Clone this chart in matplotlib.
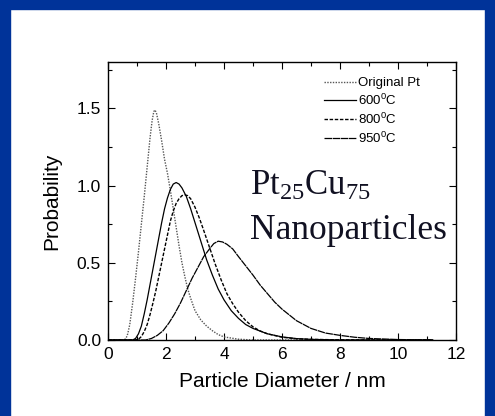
import matplotlib
matplotlib.use('Agg')
import matplotlib.pyplot as plt
from matplotlib.patches import Rectangle

plt.rcParams['font.family'] = ['Liberation Sans', 'DejaVu Sans']
plt.rcParams['mathtext.default'] = 'regular'

# values (diameter in nm, probability)
x_orig = [0.0, 0.55, 0.62, 0.68, 0.75, 0.85, 0.95, 1.05, 1.15, 1.25, 1.35, 1.45,
          1.52, 1.58, 1.62, 1.67, 1.75, 1.85, 1.95, 2.05, 2.15, 2.25, 2.35, 2.45,
          2.55, 2.65, 2.75, 2.85, 3.0, 3.2, 3.4, 3.6, 3.8, 4.0, 4.5, 5.0, 11.2]
y_orig = [0.0, 0.0, 0.01, 0.04, 0.10, 0.24, 0.40, 0.57, 0.75, 0.93, 1.12, 1.31,
          1.42, 1.48, 1.49, 1.47, 1.40, 1.29, 1.17, 1.08, 0.97, 0.85, 0.73, 0.61,
          0.50, 0.41, 0.33, 0.27, 0.19, 0.13, 0.09, 0.06, 0.035, 0.02, 0.005, 0.0, 0.0]

x_600 = [0.0, 0.85, 0.95, 1.05, 1.15, 1.25, 1.35, 1.45, 1.55, 1.65, 1.75, 1.85,
         1.95, 2.05, 2.15, 2.25, 2.35, 2.45, 2.55, 2.7, 2.85, 3.0, 3.2, 3.4, 3.6,
         3.8, 4.0, 4.25, 4.5, 4.75, 5.0, 5.5, 6.0, 6.5, 7.0, 8.0, 11.2]
y_600 = [0.0, 0.0, 0.01, 0.04, 0.09, 0.17, 0.26, 0.36, 0.46, 0.56, 0.66, 0.76,
         0.85, 0.92, 0.975, 1.01, 1.02, 1.01, 0.985, 0.93, 0.85, 0.76, 0.64, 0.52,
         0.42, 0.33, 0.26, 0.19, 0.14, 0.10, 0.075, 0.04, 0.02, 0.009, 0.004, 0.0, 0.0]

x_800 = [0.0, 0.95, 1.05, 1.15, 1.25, 1.35, 1.45, 1.55, 1.65, 1.75, 1.85, 1.95,
         2.05, 2.15, 2.25, 2.35, 2.45, 2.55, 2.65, 2.75, 2.85, 3.0, 3.15, 3.3, 3.5,
         3.7, 3.9, 4.1, 4.3, 4.5, 4.75, 5.0, 5.25, 5.5, 6.0, 6.5, 7.0, 8.0, 11.2]
y_800 = [0.0, 0.0, 0.005, 0.022, 0.055, 0.10, 0.165, 0.24, 0.32, 0.41, 0.50, 0.59,
         0.68, 0.77, 0.835, 0.885, 0.915, 0.935, 0.94, 0.935, 0.915, 0.86, 0.79, 0.71,
         0.60, 0.49, 0.39, 0.30, 0.235, 0.18, 0.125, 0.085, 0.058, 0.04, 0.018, 0.008,
         0.004, 0.001, 0.0]

x_950 = [0.0, 1.3, 1.5, 1.7, 1.9, 2.1, 2.3, 2.5, 2.7, 2.9, 3.1, 3.3, 3.5, 3.65,
         3.8, 3.95, 4.1, 4.3, 4.5, 4.75, 5.0, 5.25, 5.5, 5.75, 6.0, 6.5, 7.0, 7.5,
         8.0, 8.5, 9.0, 10.0, 11.2]
y_950 = [0.0, 0.0, 0.01, 0.03, 0.06, 0.11, 0.17, 0.24, 0.32, 0.40, 0.47, 0.54,
         0.59, 0.625, 0.64, 0.635, 0.62, 0.59, 0.54, 0.48, 0.42, 0.355, 0.30, 0.245,
         0.20, 0.125, 0.075, 0.045, 0.03, 0.018, 0.01, 0.003, 0.0]

labels = ['Original Pt', '600$^0$C', '800$^0$C', '950$^0$C']

fig = plt.figure(figsize=(4.95, 4.16), dpi=100)
fig.patch.set_facecolor('white')
blue = '#003399'
# blue frame round the slide
fig.patches.append(Rectangle((0, 0), 10/495, 1, transform=fig.transFigure, color=blue, zorder=-1))
fig.patches.append(Rectangle((0, 407/416), 1, 9/416, transform=fig.transFigure, color=blue, zorder=-1))
fig.patches.append(Rectangle((485/495, 0), 10/495, 1, transform=fig.transFigure, color=blue, zorder=-1))

ax = fig.add_axes([0.2182, 0.1827, 0.703, 0.668])
ax.plot(x_orig, y_orig, color='#555555', lw=1.0, ls=(0, (1, 1)), label=labels[0])
ax.plot(x_600, y_600, color='black', lw=0.9, ls='-', label=labels[1])
ax.plot(x_800, y_800, color='black', lw=1.0, ls=(0, (2.5, 1.2)), label=labels[2])
ax.plot(x_950, y_950, color='black', lw=0.9, ls=(0, (6, 0.5)), label=labels[3])

ax.set_xlim(0, 12)
ax.set_ylim(0, 1.8)
ax.set_xticks([0, 2, 4, 6, 8, 10, 12])
ax.set_xticks([1, 3, 5, 7, 9, 11], minor=True)
ax.set_yticks([0.0, 0.5, 1.0, 1.5])
ax.set_yticklabels(['0.0', '0.5', '1.0', '1.5'])
ax.set_yticks([0.25, 0.75, 1.25, 1.75], minor=True)
ax.tick_params(which='both', direction='in', top=True, right=True, width=0.8)
ax.tick_params(which='major', length=5, labelsize=12.5, pad=5)
ax.tick_params(which='minor', length=3)
for s in ax.spines.values():
    s.set_linewidth(1.0)

ax.set_xlabel('Particle Diameter / nm', fontsize=15, labelpad=7)
ax.set_ylabel('Probability', fontsize=15, labelpad=11)

ax.legend(loc='upper left', bbox_to_anchor=(0.594, 0.98), frameon=False,
          fontsize=9.5, handlelength=2.4, handletextpad=0.2, labelspacing=0.28,
          borderaxespad=0.3)

ax.text(4.9, 0.94, 'Pt$_{25}$Cu$_{75}$', fontsize=25, family='Liberation Serif', color='#111122')
ax.text(4.9, 0.654, 'Nanoparticles', fontsize=25.5, family='Liberation Serif', color='#111122')

fig.savefig('out.png', dpi=100, facecolor=fig.get_facecolor())
